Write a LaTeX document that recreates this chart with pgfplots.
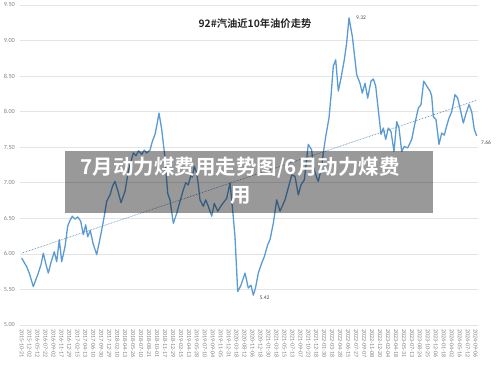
\documentclass[border=0pt]{standalone}
\usepackage{pgfplots}
\pgfplotsset{compat=1.18}
\usepackage{pgfplotstable}
\usepackage{fontspec}
\setmainfont{Carlito}
\newfontfamily\cjk[BoldFont={Noto Sans CJK SC Bold}]{Noto Sans CJK SC}
\definecolor{lineblue}{HTML}{5B9BD5}
\definecolor{tickgray}{HTML}{808080}
\definecolor{gridgray}{HTML}{E4E4E4}

\pgfplotstableread{
px v
21.7 5.94
26.7 5.82
29.5 5.72
33.3 5.54
38.3 5.73
41.0 5.85
43.3 6.01
46.0 5.85
48.3 5.73
51.0 5.88
54.3 6.03
56.7 5.89
59.3 6.20
61.7 5.89
65.0 6.10
67.7 6.39
70.0 6.47
72.3 6.53
75.0 6.49
77.7 6.52
80.7 6.46
83.3 6.27
85.7 6.41
87.7 6.24
90.3 6.33
93.0 6.15
96.7 5.99
99.5 6.18
102.3 6.38
104.5 6.55
106.7 6.74
110.0 6.83
112.5 6.95
115.0 7.02
118.0 6.88
121.0 6.72
125.0 6.88
128.3 7.16
131.0 7.30
133.3 7.42
136.0 7.38
138.5 7.45
141.7 7.40
144.3 7.46
146.7 7.42
150.0 7.46
152.3 7.58
155.0 7.68
157.0 7.82
159.0 7.98
161.7 7.75
165.0 7.35
167.7 6.85
170.0 6.76
173.3 6.43
176.7 6.57
180.0 6.74
183.3 6.90
185.7 7.00
188.3 6.97
191.0 7.11
192.3 7.08
194.3 7.23
196.7 7.14
198.5 6.95
200.0 6.76
203.3 6.67
205.7 6.76
208.3 6.67
211.7 6.53
214.3 6.71
217.7 6.60
221.7 6.69
226.7 6.78
230.0 7.00
232.3 6.67
235.0 6.24
237.7 5.47
241.0 5.56
245.0 5.73
248.3 5.52
251.0 5.56
253.3 5.42
255.5 5.52
258.3 5.73
261.7 5.87
264.3 5.96
267.7 6.13
270.0 6.20
273.3 6.43
276.7 6.76
280.0 6.60
285.0 6.76
288.3 6.93
291.7 7.11
295.0 7.09
298.3 6.83
301.0 6.97
304.3 7.04
308.3 7.54
311.7 7.46
313.3 7.23
316.7 7.07
318.3 7.02
321.7 7.23
323.3 7.42
325.7 7.65
329.0 7.91
331.0 8.22
333.3 8.64
335.7 8.73
338.3 8.29
341.0 8.47
344.3 8.73
346.7 8.97
349.0 9.32
352.3 9.06
356.7 8.52
360.0 8.40
362.3 8.26
365.0 8.40
367.7 8.19
371.0 8.43
373.3 8.46
375.7 8.36
377.7 8.10
381.0 7.68
383.3 7.77
385.7 7.61
388.3 7.77
391.0 7.72
394.0 7.44
396.7 7.86
399.0 7.77
401.7 7.44
404.3 7.51
407.7 7.49
411.7 7.61
415.0 7.84
418.3 8.05
421.0 8.10
423.7 8.43
426.7 8.36
430.0 8.29
431.7 8.22
433.3 7.93
436.0 7.89
439.0 7.54
441.7 7.70
444.3 7.67
446.7 7.80
449.0 7.91
451.7 8.00
455.0 8.24
457.7 8.19
460.0 8.05
463.3 7.84
465.7 7.96
469.0 8.10
471.7 8.00
474.3 7.75
476.7 7.66
}\pricedata

\begin{document}
\begin{tikzpicture}
\path[use as bounding box] (0,0) rectangle (500pt,365pt);
\begin{axis}[
  at={(20pt,40pt)}, anchor=south west,
  scale only axis, width=458pt, height=320pt,
  xmin=20, xmax=478, ymin=5, ymax=9.5,
  clip=false,
  axis line style={draw=none},
  major tick length=0pt,
  ymajorgrids,
  grid style={gridgray, line width=0.6pt},
  ytick={5,5.5,6,6.5,7,7.5,8,8.5,9,9.5},
  /pgf/number format/assume math mode=true,
  yticklabel style={font=\fontsize{6.2}{7}\selectfont, text=tickgray, anchor=east, inner sep=0pt,
    /pgf/number format/fixed, /pgf/number format/fixed zerofill, /pgf/number format/precision=2},
  yticklabel shift=5pt,
  xtick={21.7,29.665,...,476},
  xticklabels={2015-10-21,2015-12-02,2016-05-12,2016-07-22,2016-09-02,2016-11-17,2016-12-29,2017-02-15,2017-04-13,2017-06-10,2017-09-30,2017-12-29,2018-02-10,2018-04-13,2018-05-26,2018-07-10,2018-08-21,2018-10-01,2018-11-17,2018-12-29,2019-02-15,2019-04-13,2019-05-28,2019-07-10,2019-09-04,2019-11-05,2019-12-31,2020-03-18,2020-08-12,2020-11-06,2020-12-18,2021-01-30,2021-03-18,2021-05-15,2021-07-13,2021-09-07,2021-10-23,2021-12-18,2022-01-30,2022-03-18,2022-04-28,2022-06-15,2022-07-27,2022-09-07,2022-11-08,2022-12-20,2023-02-04,2023-04-18,2023-05-31,2023-07-13,2023-08-24,2023-10-25,2023-12-06,2024-01-18,2024-04-02,2024-05-16,2024-07-12,2024-09-06},
  xticklabel style={font=\fontsize{6}{7}\selectfont, text=tickgray, rotate=-90, anchor=west, inner sep=0pt},
  xticklabel shift=4pt,
]
\addplot[lineblue, line width=1.3pt, line join=round] table[x=px, y=v] {\pricedata};
\addplot[lineblue!85!black, line width=0.6pt, dash pattern=on 0.7pt off 0.9pt] coordinates {(21.7,6.01) (476.7,8.16)};
\node[anchor=west, font=\fontsize{5.5}{6}\selectfont, text=black!70, inner sep=0pt] at (axis cs:356,9.32) {9.32};
\node[anchor=west, font=\fontsize{5.5}{6}\selectfont, text=black!70, inner sep=0pt] at (axis cs:259.5,5.39) {5.42};
\node[anchor=west, font=\fontsize{5.5}{6}\selectfont, text=black!70, inner sep=0pt] at (axis cs:481,7.56) {7.66};
\end{axis}
\node[font=\cjk\bfseries\fontsize{10.3}{12}\selectfont, text=black!85] at (255pt,341.5pt) {92\#汽油近10年油价走势};
\fill[black, opacity=0.4] (65pt,152.3pt) rectangle (433pt,214pt);
\node[font=\cjk\bfseries\fontsize{20.5}{24}\selectfont, text=white, inner sep=0pt] at (240pt,197pt) {7月动力煤费用走势图/6月动力煤费};
\node[font=\cjk\bfseries\fontsize{20.5}{24}\selectfont, text=white, inner sep=0pt] at (241pt,170pt) {用};
\end{tikzpicture}
\end{document}
